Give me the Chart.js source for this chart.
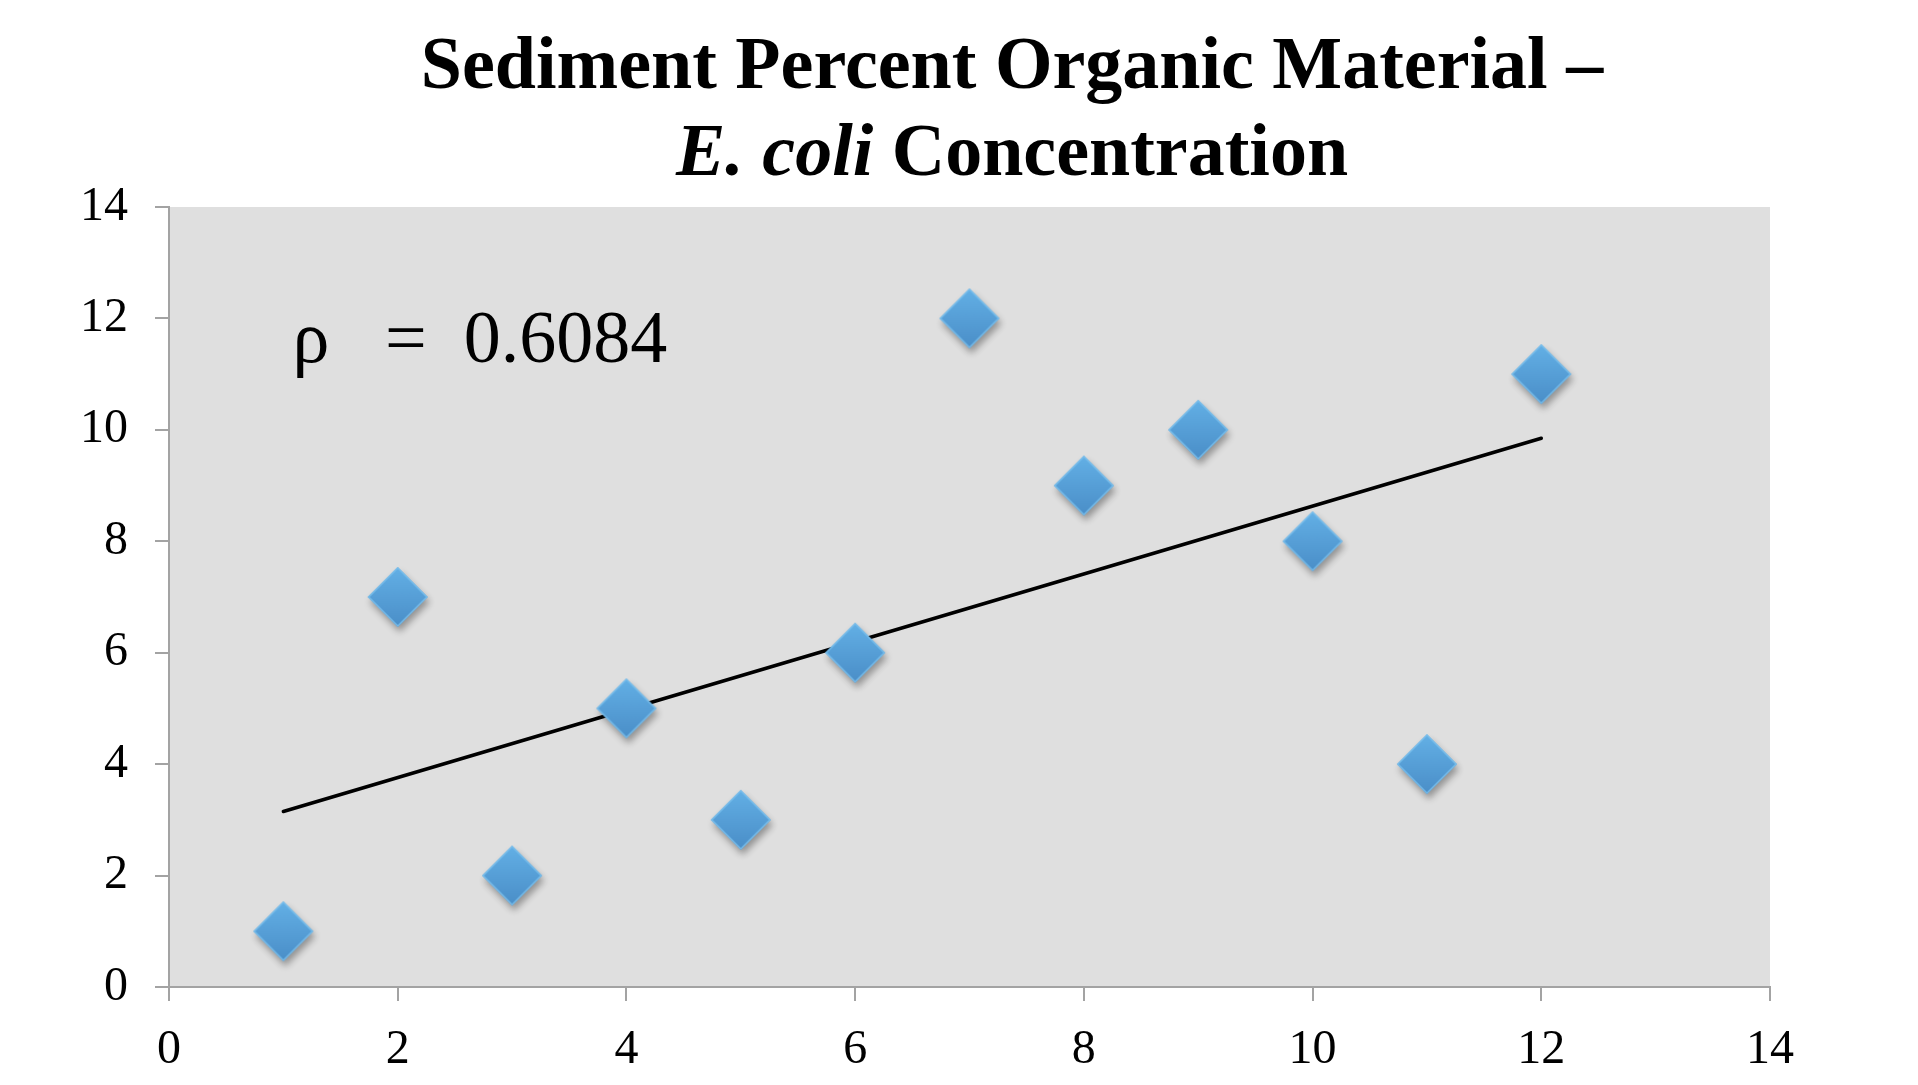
<!DOCTYPE html>
<html>
<head>
<meta charset="utf-8">
<script src="https://cdn.jsdelivr.net/npm/chart.js@4.4.1/dist/chart.umd.min.js"></script>
<style>
  html, body { margin: 0; padding: 0; background: #fff; }
  #wrap { width: 1918px; height: 1085px; }
</style>
</head>
<body>
<div id="wrap"><canvas id="myChart" width="1918" height="1085"></canvas></div>
<script>
// organic material rank vs E. coli rank
var xValues = [1, 2, 3, 4, 5, 6, 7, 8, 9, 10, 11, 12]
var yValues = [1, 7, 2, 5, 3, 6, 12, 9, 10, 8, 4, 11]

// trend line end points
var trendX = [1, 12]
var trendY = [3.15, 9.85]

var xTicks = [0, 2, 4, 6, 8, 10, 12, 14]
var yTicks = [0, 2, 4, 6, 8, 10, 12, 14]

var titleLine1 = "Sediment Percent Organic Material \u2013"
var titleItalic = "E. coli"
var titleRest = " Concentration"
var rhoText = "\u03C1   =  0.6084"

var serif = "'Liberation Serif', 'Times New Roman', serif"
var axisGray = "#a3a3a3"

// diamond marker with gradient and soft shadow
function makeDiamond(r) {
  var pad = 14
  var c = document.createElement('canvas')
  c.width = 2 * r + 2 * pad
  c.height = 2 * r + 2 * pad
  var g = c.getContext('2d')
  var cx = r + pad, cy = r + pad
  g.save()
  g.shadowColor = 'rgba(0,0,0,0.35)'
  g.shadowBlur = 7
  g.shadowOffsetX = 2
  g.shadowOffsetY = 5
  g.beginPath()
  g.moveTo(cx, cy - r)
  g.lineTo(cx + r, cy)
  g.lineTo(cx, cy + r)
  g.lineTo(cx - r, cy)
  g.closePath()
  var grad = g.createLinearGradient(0, cy - r, 0, cy + r)
  grad.addColorStop(0, '#63b0e6')
  grad.addColorStop(1, '#4a8ec8')
  g.fillStyle = grad
  g.fill()
  g.restore()
  g.beginPath()
  g.moveTo(cx, cy - r + 1)
  g.lineTo(cx + r - 1, cy)
  g.lineTo(cx, cy + r - 1)
  g.lineTo(cx - r + 1, cy)
  g.closePath()
  g.lineWidth = 1.5
  g.strokeStyle = 'rgba(120,190,235,0.9)'
  g.stroke()
  return c
}
var diamond = makeDiamond(30)

var plotBg = {
  id: 'plotBg',
  beforeDraw: function(chart) {
    var a = chart.chartArea, ctx = chart.ctx
    ctx.save()
    ctx.fillStyle = '#dfdfdf'
    ctx.fillRect(a.left, a.top, a.right - a.left, a.bottom - a.top)
    ctx.restore()
  }
}

var texts = {
  id: 'texts',
  afterDraw: function(chart) {
    var ctx = chart.ctx
    ctx.save()
    ctx.fillStyle = '#000'
    ctx.textBaseline = 'alphabetic'
    var cx = 1012
    var tf = 74
    ctx.font = 'bold ' + tf + 'px ' + serif
    ctx.textAlign = 'center'
    ctx.fillText(titleLine1, cx, 88)
    // second line: italic + bold parts
    ctx.textAlign = 'left'
    ctx.font = 'italic bold ' + tf + 'px ' + serif
    var w1 = ctx.measureText(titleItalic).width
    ctx.font = 'bold ' + tf + 'px ' + serif
    var w2 = ctx.measureText(titleRest).width
    var sx = cx - (w1 + w2) / 2
    ctx.font = 'italic bold ' + tf + 'px ' + serif
    ctx.fillText(titleItalic, sx, 175)
    ctx.font = 'bold ' + tf + 'px ' + serif
    ctx.fillText(titleRest, sx + w1, 175)
    // correlation label placed in data space
    var xs = chart.scales.x, ys = chart.scales.y
    ctx.font = '74px ' + serif
    ctx.fillText(rhoText, xs.getPixelForValue(1.08), ys.getPixelForValue(11.22))
    ctx.restore()
  }
}

document.addEventListener('DOMContentLoaded', function() {
  var ctx = document.getElementById("myChart").getContext('2d')
  var myChart = new Chart(ctx, {
    type: 'scatter',
    data: {
      datasets: [{
        label: 'E. coli',
        data: xValues.map(function(x, i) { return {x: x, y: yValues[i]} }),
        pointStyle: diamond,
        pointRadius: 30,
        order: 1
      }, {
        label: 'trend',
        type: 'line',
        data: trendX.map(function(x, i) { return {x: x, y: trendY[i]} }),
        borderColor: '#000',
        borderWidth: 3.5,
        borderCapStyle: 'round',
        pointRadius: 0,
        fill: false,
        order: 2
      }]
    },
    options: {
      responsive: false,
      animation: false,
      layout: { padding: { top: 207, right: 148, left: 0, bottom: 0 } },
      plugins: {
        legend: { display: false },
        tooltip: { enabled: false },
        title: { display: false }
      },
      scales: {
        x: {
          type: 'linear',
          min: 0, max: 14,
          afterBuildTicks: function(s) { s.ticks = xTicks.map(function(v) { return {value: v} }) },
          afterFit: function(s) { s.height = 98 },
          grid: { drawOnChartArea: false, drawTicks: true, tickLength: 14, color: axisGray, lineWidth: 2 },
          border: { color: axisGray, width: 2 },
          ticks: { color: '#000', padding: 21, font: { family: serif, size: 48 }, maxRotation: 0 }
        },
        y: {
          type: 'linear',
          min: 0, max: 14,
          afterBuildTicks: function(s) { s.ticks = yTicks.map(function(v) { return {value: v} }) },
          afterFit: function(s) { s.width = 169 },
          grid: { drawOnChartArea: false, drawTicks: true, tickLength: 14, color: axisGray, lineWidth: 2 },
          border: { color: axisGray, width: 2 },
          ticks: { color: '#000', padding: 27, font: { family: serif, size: 48 } }
        }
      }
    },
    plugins: [plotBg, texts]
  })
})
</script>
</body>
</html>
